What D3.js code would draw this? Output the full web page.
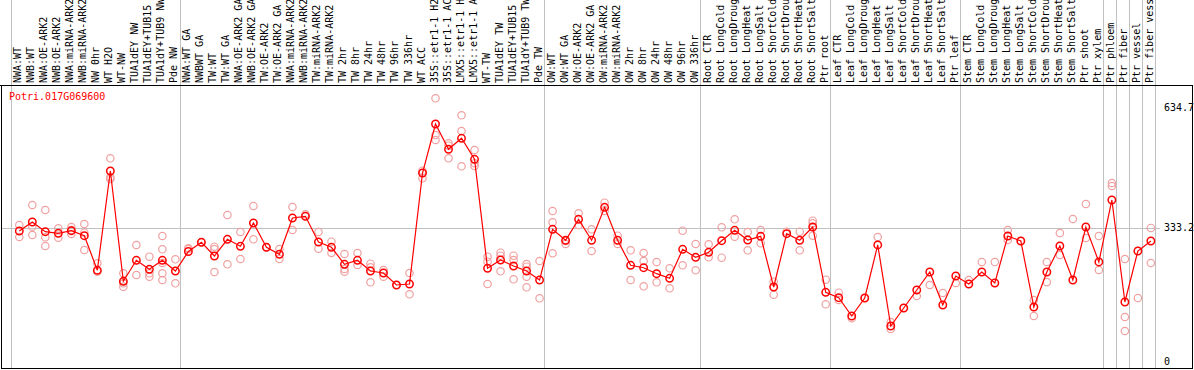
<!DOCTYPE html>
<html><head><meta charset="utf-8">
<script src="https://cdn.jsdelivr.net/npm/d3@7"></script>
<style>
html,body{margin:0;padding:0;background:#fff;}
svg{display:block;}
text{font-family:"DejaVu Sans Mono",monospace;font-size:10px;}
</style></head>
<body>
<script>
const categories = ["NWA:WT","NWB:WT","NWA:OE-ARK2","NWB:OE-ARK2","NWA:miRNA-ARK2","NWB:miRNA-ARK2","NW 0hr","WT H2O","WT-NW","TUA1dEY NW","TUA1dEY+TUB15 NW","TUA1dY+TUB9 NW","Pde NW",
"NWA:WT GA","NWBWT GA","TW:WT","TW:WT GA","NWA:OE-ARK2 GA","NWB:OE-ARK2 GA","TW:OE-ARK2","TW:OE-ARK2 GA","NWA:miRNA-ARK2 GA","NWB:miRNA-ARK2 GA","TW:miRNA-ARK2","TW:miRNA-ARK2 GA","TW 2hr","TW 8hr","TW 24hr","TW 48hr","TW 96hr","TW 336hr","WT ACC","35S::etr1-1 H2O","35S::etr1-1 ACC","LMX5::etr1-1 H2O","LMX5::etr1-1 ACC","WT-TW","TUA1dEY TW","TUA1dEY+TUB15 TW","TUA1dY+TUB9 TW","Pde TW",
"OW:WT","OW:WT GA","OW:OE-ARK2","OW:OE-ARK2 GA","OW:miRNA-ARK2","OW:miRNA-ARK2 GA","OW 2hr","OW 8hr","OW 24hr","OW 48hr","OW 96hr","OW 336hr",
"Root CTR","Root LongCold","Root LongDrought","Root LongHeat","Root LongSalt","Root ShortCold","Root ShortDrought","Root ShortHeat","Root ShortSalt","Ptr root",
"Leaf CTR","Leaf LongCold","Leaf LongDrought","Leaf LongHeat","Leaf LongSalt","Leaf ShortCold","Leaf ShortDrought","Leaf ShortHeat","Leaf ShortSalt","Ptr leaf",
"Stem CTR","Stem LongCold","Stem LongDrought","Stem LongHeat","Stem LongSalt","Stem ShortCold","Stem ShortDrought","Stem ShortHeat","Stem ShortSalt","Ptr shoot","Ptr xylem",
"Ptr phloem","Ptr fiber","Ptr vessel","Ptr fiber vessel"];

const meanValues = [325.5,347.9,323.7,319.7,326.2,313.7,227.5,475.1,200,252.4,229.9,252.4,225.7,
274.3,297.3,263.1,304.8,287.3,345.4,284.8,267.4,357.9,362.1,298,284.8,242.4,252.4,225.7,220.7,190.8,193.3,470.1,592.3,529.2,556.7,504.3,232.4,253.1,238.2,225.7,203.3,
329.7,302.3,354.6,302.3,384.6,302.3,239.9,233.9,219,207.5,279.8,259.9,
272.3,301.3,327.2,303,312.2,185.8,318.7,302.3,335.4,172.6,
159.1,113.5,158.4,290.6,88.5,133.4,178.3,223.2,140.9,213.2,
193.3,223.2,195.8,313,300.5,135.9,223.2,288.1,203.3,335.4,248.2,
402.8,148.4,275.6,300.5];

const replicateValues = [
[340.4,310.5],[390.3,336.2,315.5],[377.8,309.8,288.1],[332.2,308.8],[335.4,328,318],[342.9,321.2,278.1],[244.9,224],[506.8,459.4,455.2],[220,195,186.6],[290.6,215.7],[261.4,220,211.5],[313,279.8,245.7,220,203.3],[254.9,195],
[282.3,280.6],[297.3],[286.3,280.6,223.2],[365.4,242.4],[323,255.6],[387.8,304.8],[284.8],[280.6,255.6],[385.3,328],[367.1],[323,281.3],[298.8,270.6],[268.1,230.7,224],[270.6,240.7],[243.9,234.9,197.5],[228.2,211.5],[190.8],[220.7,167.6],[475.9,456.9],[656.4,564.9,552.4],[544.2,538.2,506.8],[614,574.9,486.8],[527.5,494.3,487.6],[261.4,248.9,193.3],[271.3,263.9,225],[263.9,253.1,205],[243.2,236.4,211.5,185.1],[250.6,157.6],
[375.3,347.2,269.9],[300.5,293],[369.6,340.4],[329.7,275.6],[396,375.3],[313.7,293],[277.3,203.3],[270.6,250.6,187.5],[248.2,197.5],[232.4,182.6],[326.2,239.9],[293,227.5],
[292.3,259.9],[334.7,258.9],[354.6,311.3],[323,277.3],[328,294.8],[199,166.6],[323.7],[323.7,277.3],[351.2,344.7,313.7],[204,142.7],
[171.6,153.4],[108],[158.4],[310.5],[98.5,81],[133.4],[163.4],[190.8],[170.8],[195.8],
[203.3],[248.2],[248],[328,303],[300.5],[153.4,113.5],[248.2,198],[320.5,265.6],[355.4],[392.8,308],[313,228.2],
[445.2,437.7],[255.6,111,76.1],[158.4],[333,245.7]];

const groupStarts = [0,13,41,53,63,73,84,85,86,87,88];
const yTicks = [634.7,333.2,0];
const gridValue = 333.2;
const geneName = "Potri.017G069600";

const W = 1194, H = 370;
const svg = d3.select("body").append("svg").attr("width",W).attr("height",H);

const x = d3.scaleBand().domain(d3.range(categories.length)).range([10.7,1155.3]);
const px = i => x(i) + 8.6;
const y = d3.scaleLinear().domain([0,634.7]).range([361.5,107]);

// separators
svg.append("g").selectAll("line").data(groupStarts).join("line")
  .attr("x1",d=>Math.round(d<categories.length? x(d): x(categories.length-1)+x.step())+0.5)
  .attr("x2",d=>Math.round(d<categories.length? x(d): x(categories.length-1)+x.step())+0.5)
  .attr("y1",0).attr("y2",369).attr("stroke","#c0c0c0").attr("stroke-width",1);

// grid line
svg.append("line").attr("x1",1).attr("x2",1160)
  .attr("y1",Math.round(y(gridValue))+0.5).attr("y2",Math.round(y(gridValue))+0.5)
  .attr("stroke","#c0c0c0");

// frame
svg.append("line").attr("x1",0).attr("x2",1193).attr("y1",85.5).attr("y2",85.5).attr("stroke","#000");
svg.append("line").attr("x1",1.5).attr("x2",1.5).attr("y1",85).attr("y2",369).attr("stroke","#000");
svg.append("line").attr("x1",1192.5).attr("x2",1192.5).attr("y1",85).attr("y2",369).attr("stroke","#000");
svg.append("line").attr("x1",1).attr("x2",1193).attr("y1",368.5).attr("y2",368.5).attr("stroke","#000");

// column labels
svg.append("g").selectAll("text").data(categories).join("text")
  .attr("transform",(d,i)=>`translate(${px(i)-1.5},83) rotate(-90)`)
  .attr("dy","0.35em").attr("fill","#000").text(d=>d);

// title
svg.append("text").attr("x",9).attr("y",100).attr("fill","#ff0000").text(geneName);

// y tick labels
svg.append("g").selectAll("text").data(yTicks).join("text")
  .attr("x",1164).attr("y",d=>y(d)).attr("dy","0.35em").attr("fill","#000").text(d=>d);

// replicates
const repPts = [];
replicateValues.forEach((arr,i)=>arr.forEach(v=>repPts.push({i,v})));
svg.append("g").selectAll("circle").data(repPts).join("circle")
  .attr("cx",d=>px(d.i)).attr("cy",d=>y(d.v)).attr("r",3.7)
  .attr("fill","none").attr("stroke","#f0a0a0").attr("stroke-width",1.2);

// line
svg.append("path").datum(meanValues)
  .attr("d",d3.line().x((d,i)=>px(i)).y(d=>y(d)))
  .attr("fill","none").attr("stroke","#ff0000").attr("stroke-width",1.2);

// means
svg.append("g").selectAll("circle").data(meanValues).join("circle")
  .attr("cx",(d,i)=>px(i)).attr("cy",d=>y(d)).attr("r",3.7)
  .attr("fill","none").attr("stroke","#ff0000").attr("stroke-width",1.5);
</script>
</body></html>
